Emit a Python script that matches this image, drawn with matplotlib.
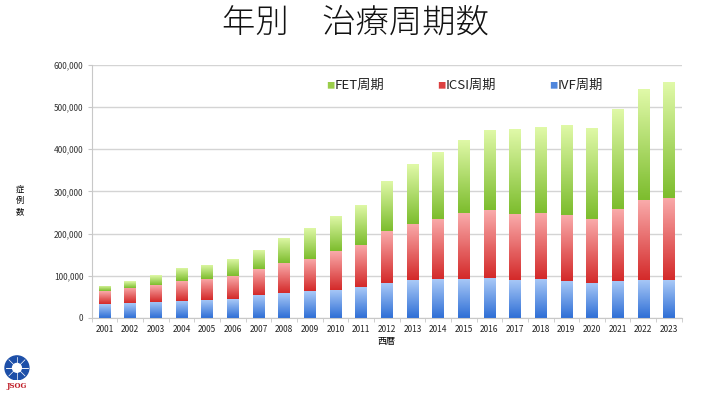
import numpy as np
import matplotlib
matplotlib.use('Agg')
from matplotlib import pyplot as plt
from matplotlib.colors import LinearSegmentedColormap
from matplotlib.patches import Circle

plt.rcParams['font.family'] = ['Noto Sans CJK JP', 'DejaVu Sans']

years = [str(y) for y in range(2001, 2024)]
# cumulative heights (IVF, IVF+ICSI, total)
ivf = [33000, 34600, 38000, 41000, 42700, 45000, 54500, 58400, 63000, 67000, 72600, 82000,
       90000, 91500, 93200, 94000, 90800, 92500, 88500, 83700, 88500, 90800, 89200]
ivf_icsi = [63000, 71000, 78000, 87000, 92500, 98700, 116000, 129500, 140000, 158000, 173000, 205000,
            223600, 234800, 248000, 255000, 247300, 249700, 243300, 233800, 257500, 278900, 284600]
total = [76600, 86800, 101000, 118600, 125700, 140600, 162000, 190400, 214000, 242600, 268700, 325600,
         365000, 393600, 422800, 446500, 447300, 453600, 457700, 449600, 496300, 542000, 559600]

icsi = [b - a for a, b in zip(ivf, ivf_icsi)]
fet = [c - b for b, c in zip(ivf_icsi, total)]

series = ['IVF周期', 'ICSI周期', 'FET周期']
# (bottom colour, top colour) for the vertical gradient
grads = {
    'IVF周期': ('#2f6fd6', '#a9c9f7'),
    'ICSI周期': ('#d42a2a', '#f9aaaa'),
    'FET周期': ('#7dbd2e', '#e0f9a8'),
}
legend_cols = {'IVF周期': '#4f86dc', 'ICSI周期': '#dc4040', 'FET周期': '#9acd4a'}

fig = plt.figure(figsize=(7.06, 3.93), dpi=100)
ax = fig.add_axes([0.13, 0.191, 0.8357, 0.6438])

x = np.arange(len(years))
grad = np.linspace(0, 1, 64).reshape(-1, 1)
bottom = np.zeros(len(years))
for name, vals in zip(series, [ivf, icsi, fet]):
    bars = ax.bar(x, vals, width=0.45, bottom=bottom, color='none', edgecolor='none', zorder=2)
    cmap = LinearSegmentedColormap.from_list(name, grads[name])
    for p in bars.patches:
        x0, y0 = p.get_x(), p.get_y()
        im = ax.imshow(grad, cmap=cmap, origin='lower', aspect='auto', zorder=2,
                       extent=[x0, x0 + p.get_width(), y0, y0 + p.get_height()])
        im.set_clip_path(p)
    bottom += np.array(vals)

ax.set_xlim(-0.5, len(years) - 0.5)
ax.set_ylim(0, 600000)
ax.set_yticks(np.arange(0, 600001, 100000))
ax.set_yticklabels([f'{v:,}' for v in range(0, 600001, 100000)], fontsize=6, color='#333333')
ax.set_xticks(x)
ax.set_xticklabels(years, fontsize=6, color='#222222')
ax.set_xticks(np.arange(-0.5, len(years), 1), minor=True)
ax.tick_params(axis='x', which='major', length=0, pad=5)
ax.tick_params(axis='x', which='minor', length=3, color='#c8c8c8')
ax.tick_params(axis='y', length=3, color='#c8c8c8', pad=3)
ax.yaxis.grid(True, color='#d4d4d4', linewidth=1.0, zorder=0)
ax.set_axisbelow(True)
for s in ['top', 'right']:
    ax.spines[s].set_visible(False)
ax.spines['left'].set_color('#c8c8c8')
ax.spines['bottom'].set_color('#c8c8c8')

ax.set_xlabel('西暦', fontsize=6.5, labelpad=2)
fig.text(0.028, 0.49, '症\n例\n数', fontsize=6, ha='center', va='center', linespacing=1.3)

# legend
for name, lx in [('FET周期', 0.462), ('ICSI周期', 0.619), ('IVF周期', 0.778)]:
    fig.text(lx, 0.782, '■', fontsize=6, color=legend_cols[name], ha='left', va='center')
    fig.text(lx + 0.012, 0.782, name, fontsize=9.5, color='#222222', ha='left', va='center')

fig.text(0.503, 0.94, '年別　治療周期数', fontsize=24, ha='center', va='center',
         color='#111111', weight='light')

# JSOG mark
lax = fig.add_axes([0.006, 0.032, 0.036, 0.064])
lax.set_xlim(-1, 1)
lax.set_ylim(-1, 1)
lax.set_aspect('equal')
lax.axis('off')
lax.add_patch(Circle((0, 0), 0.95, color='#1d4fa8'))
for a in np.linspace(0, np.pi, 5):
    lax.plot([0.9 * np.cos(a), -0.9 * np.cos(a)], [0.9 * np.sin(a), -0.9 * np.sin(a)],
             color='white', linewidth=0.5)
lax.add_patch(Circle((0, 0), 0.35, color='white'))
fig.text(0.024, 0.018, 'JSOG', fontsize=5, color='#c0202a', ha='center', va='center',
         family='DejaVu Serif', weight='bold')

fig.savefig('out.png', dpi=100)
